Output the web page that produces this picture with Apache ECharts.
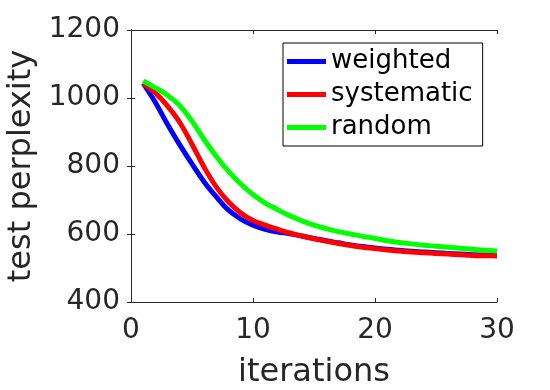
<!DOCTYPE html>
<html>
<head>
    <meta charset="utf-8">
    <title>test perplexity</title>
    <script src="https://cdn.jsdelivr.net/npm/echarts@6/dist/echarts.min.js"></script>
    <style>
        html, body { margin: 0; padding: 0; background: #fff; }
        #chart { width: 550px; height: 390px; }
    </style>
</head>
<body>
<div id="chart"></div>
<script>
    // iterations 1..30
    var iterations = [];
    for (var i = 1; i <= 30; i++) iterations.push(i);

    var weighted = [1043, 987, 922, 862, 806, 753, 709, 670, 644, 626,
                    614, 606, 601, 594, 587, 580, 574, 568, 563, 559,
                    555, 552, 549, 547, 545, 543, 541, 539, 538, 537];
    var systematic = [1043, 1015, 976, 928, 864, 796, 738, 694, 662, 640,
                      626, 614, 603, 594, 586, 579, 572, 566, 561, 557,
                      553, 550, 547, 545, 543, 541, 539, 537, 536, 535];
    var random = [1050, 1030, 1008, 978, 932, 878, 828, 784, 747, 716,
                  691, 672, 654, 639, 626, 616, 607, 600, 593, 587,
                  580, 575, 571, 567, 564, 561, 558, 555, 552, 550];

    var seriesNames = ['weighted', 'systematic', 'random'];
    var seriesColors = ['#0000ff', '#ff0000', '#00ff00'];
    var seriesData = [weighted, systematic, random];

    var axisColor = '#262626';
    var font = 'DejaVu Sans';

    function pairs(vals) {
        return vals.map(function (v, k) { return [iterations[k], v]; });
    }

    var chart = echarts.init(document.getElementById('chart'));
    chart.setOption({
        animation: false,
        backgroundColor: '#ffffff',
        grid: { left: 131, right: 53, top: 30, bottom: 88, containLabel: false, outerBoundsMode: 'none' },
        legend: {
            orient: 'vertical',
            left: 283,
            top: 43,
            padding: [2, 10, 2, 4],
            borderColor: '#000',
            borderWidth: 1,
            backgroundColor: '#fff',
            icon: 'rect',
            itemWidth: 39,
            itemHeight: 5,
            itemGap: 0,
            textStyle: { fontFamily: font, fontSize: 26, color: '#000', lineHeight: 33 },
            data: seriesNames
        },
        xAxis: [{
            type: 'value', min: 0, max: 30, interval: 10,
            name: 'iterations', nameLocation: 'middle', nameGap: 55,
            nameTextStyle: { fontFamily: font, fontSize: 32, color: axisColor },
            axisLine: { lineStyle: { color: axisColor, width: 1 } },
            axisTick: { inside: true, length: 4, lineStyle: { color: axisColor } },
            axisLabel: { fontFamily: font, fontSize: 28, color: axisColor, margin: 15 },
            splitLine: { show: false }
        }, {
            type: 'value', min: 0, max: 30, interval: 10, position: 'top',
            axisLine: { show: true, lineStyle: { color: axisColor, width: 1 } },
            axisTick: { inside: true, length: 4, lineStyle: { color: axisColor } },
            axisLabel: { show: false },
            splitLine: { show: false }
        }],
        yAxis: [{
            type: 'value', min: 400, max: 1200, interval: 200,
            name: 'test perplexity', nameLocation: 'middle', nameGap: 92,
            nameTextStyle: { fontFamily: font, fontSize: 32, color: axisColor },
            axisLine: { show: true, lineStyle: { color: axisColor, width: 1 } },
            axisTick: { show: true, inside: true, length: 4, lineStyle: { color: axisColor } },
            axisLabel: {
                fontFamily: font, fontSize: 28, color: axisColor, margin: 11,
                formatter: function (v) { return String(v); }
            },
            splitLine: { show: false }
        }, {
            type: 'value', min: 400, max: 1200, interval: 200, position: 'right',
            axisLine: { show: true, lineStyle: { color: axisColor, width: 1 } },
            axisTick: { show: true, inside: true, length: 4, lineStyle: { color: axisColor } },
            axisLabel: { show: false },
            splitLine: { show: false }
        }],
        series: seriesNames.map(function (name, k) {
            return {
                name: name,
                type: 'line',
                smooth: 0.4,
                symbol: 'none',
                color: seriesColors[k],
                lineStyle: { width: 5, color: seriesColors[k] },
                data: pairs(seriesData[k])
            };
        })
    });
</script>
</body>
</html>
